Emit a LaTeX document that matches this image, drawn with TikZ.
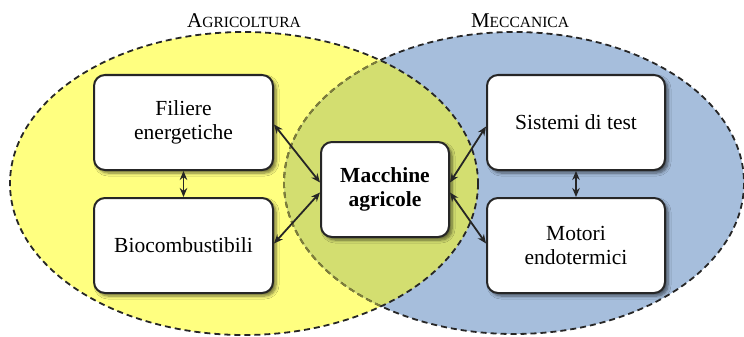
\documentclass[tikz,border=0pt]{standalone}
\usepackage{fontspec}
\setmainfont{Liberation Serif}
\usetikzlibrary{arrows.meta,shadows.blur,calc}
\definecolor{agri}{HTML}{FFFF80}
\definecolor{mecc}{HTML}{A6BEDC}
\definecolor{both}{HTML}{D3DE70}
\definecolor{olivedash}{HTML}{7F7F3A}
\tikzset{
  box/.style={draw=black!85, line width=2pt, rounded corners=11pt, fill=white,
    align=center, inner sep=2pt,
    font=\fontsize{21.5}{24.5}\selectfont,
    blur shadow={shadow xshift=3pt, shadow yshift=-3pt, shadow blur steps=6, shadow blur radius=3pt, shadow opacity=55}},
  wide/.style={minimum width=179pt, minimum height=95pt},
  link/.style={line width=1.8pt, black!85, {Stealth[length=9pt,width=7.5pt]}-{Stealth[length=9pt,width=7.5pt]}},
  border/.style={line width=1.8pt, dash pattern=on 6pt off 4pt},
  title/.style={anchor=base, inner sep=0pt}
}
\newcommand{\fakesc}[2]{{\fontsize{21}{21}\selectfont #1}{\fontsize{15.5}{16}\selectfont #2}}
\begin{document}
\begin{tikzpicture}[x=1pt,y=-1pt]
\useasboundingbox (0,0) rectangle (744,337);
\def\leftell{(244,183.5) ellipse [x radius=234, y radius=151.5]}
\def\rightell{(514,183) ellipse [x radius=230, y radius=151]}
\fill[agri] \leftell;
\fill[mecc] \rightell;
\begin{scope}
  \clip \leftell;
  \fill[both] \rightell;
\end{scope}
\draw[border, black!85] \rightell;
\begin{scope}
  \clip \leftell;
  \draw[border, olivedash] \rightell;
\end{scope}
\draw[border, black!85] \leftell;

\node[title] (tagri) at (244,28) {\fakesc{A}{GRICOLTURA}};
\node[title] (tmecc) at (520,28) {\fakesc{M}{ECCANICA}};

\node[box, wide] (fil) at (183.5,122.5) {Filiere\\energetiche};
\node[box, wide] (bio) at (183.5,245.5) {Biocombustibili};
\node[box, wide, minimum width=178pt] (sis) at (576,122.5) {Sistemi di test};
\node[box, wide, minimum width=178pt] (mot) at (576,245.5) {Motori\\endotermici};
\node[box, minimum width=128pt, minimum height=95pt, font=\fontsize{21.5}{24.5}\selectfont\bfseries] (mac) at (385,189.5) {Macchine\\agricole};

\draw[link] (fil.south) -- (bio.north);
\draw[link] (sis.south) -- (mot.north);
\draw[link] ([yshift=-2pt]fil.east) -- ([yshift=7pt]mac.west);
\draw[link] ([yshift=-3pt]mac.west) -- ([yshift=2pt]bio.east);
\draw[link] ([yshift=7pt]mac.east) -- ([yshift=-4pt]sis.west);
\draw[link] ([yshift=-3pt]mac.east) -- ([yshift=2pt]mot.west);
\end{tikzpicture}
\end{document}
